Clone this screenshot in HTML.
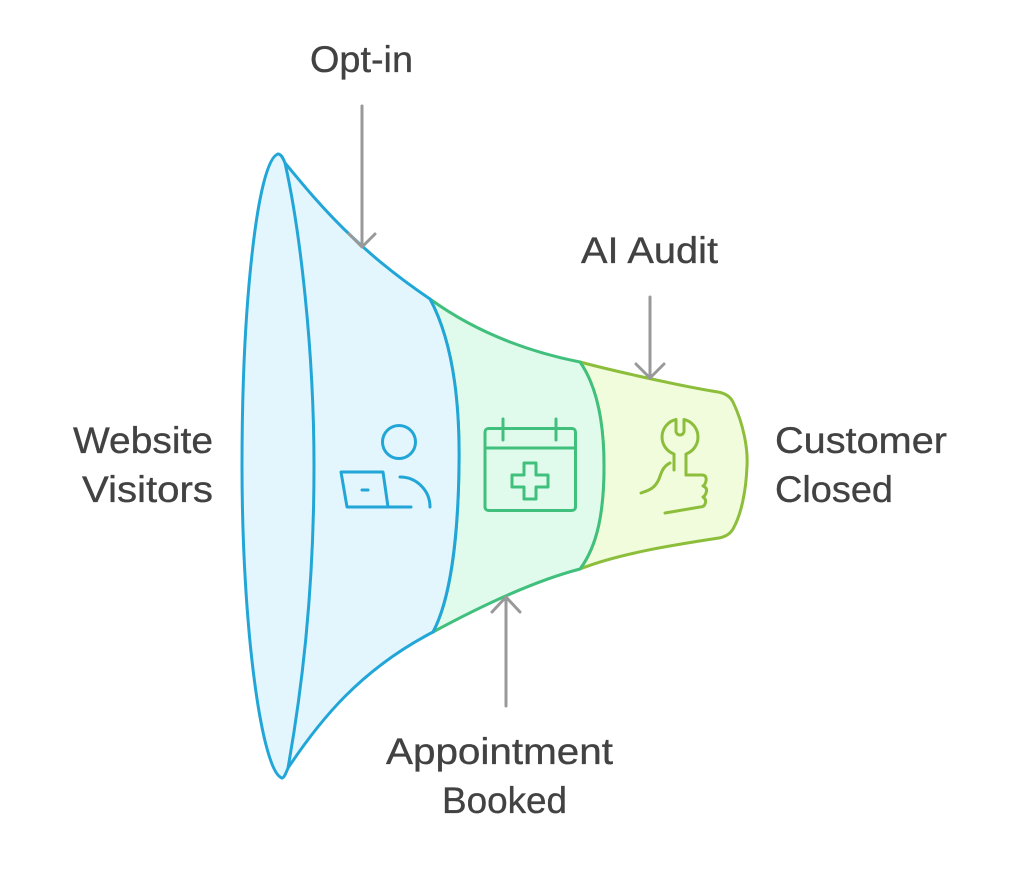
<!DOCTYPE html>
<html>
<head>
<meta charset="utf-8">
<style>
html,body{margin:0;padding:0;background:#fff;}
svg{display:block;}
text{font-family:"Liberation Sans",Arial,sans-serif;font-size:37px;fill:#424242;stroke:#424242;stroke-width:0.35px;}
</style>
</head>
<body>
<svg width="1012" height="876" viewBox="0 0 1012 876" xmlns="http://www.w3.org/2000/svg">
  <!-- Yellow segment -->
  <path d="M 580 362 C 610 370, 680 386, 718 392 Q 729 394, 733 402 C 744 425, 748 450, 747 466 C 746 492, 741 515, 733 529 Q 729 536, 719 538 C 680 544, 620 553, 580 569 C 598 545, 604 510, 604 466 C 604 420, 596 385, 580 362 Z" fill="#f1fcdc" stroke="#8dbe3b" stroke-width="3" stroke-linejoin="round"/>
  <!-- Green segment -->
  <path d="M 430 299 C 470 328, 520 350, 580 362 C 596 385, 604 420, 604 466 C 604 510, 598 545, 580 569 C 530 582, 470 612, 433 632 C 450 600, 458 540, 459 466 C 460 400, 452 340, 430 299 Z" fill="#e0fbec" stroke="#40c07c" stroke-width="3" stroke-linejoin="round"/>
  <!-- Blue body fill -->
  <path d="M 278 154 C 281 154, 283 158, 285 163 C 312 195, 350 245, 430 299 C 452 340, 460 400, 459 466 C 458 540, 450 600, 433 632 C 360 670, 320 720, 288 768 C 286 773, 284 778, 282 778 C 262 772, 242 630, 242 466 C 242 300, 258 160, 278 154 Z" fill="#e3f6fd" stroke="none"/>
  <!-- Blue strokes -->
  <g fill="none" stroke="#22a6d7" stroke-width="3" stroke-linecap="round" stroke-linejoin="round">
    <path d="M 278 154 C 281 154, 283 158, 285 163 C 312 195, 350 245, 430 299"/>
    <path d="M 430 299 C 452 340, 460 400, 459 466 C 458 540, 450 600, 433 632"/>
    <path d="M 433 632 C 360 670, 320 720, 288 768 C 286 773, 284 778, 282 778"/>
    <path d="M 282 778 C 262 772, 242 630, 242 466 C 242 300, 258 160, 278 154"/>
    <path d="M 285 163 C 300 230, 314 350, 314 466 C 314 600, 300 700, 288 768"/>
  </g>

  <!-- Person with laptop icon -->
  <g fill="none" stroke="#22a6d7" stroke-width="3" stroke-linecap="round" stroke-linejoin="round">
    <circle cx="399" cy="442" r="16.5"/>
    <path d="M 341 472 L 383 472 L 388 507 L 347 507 Z"/>
    <path d="M 388 507 L 411 507"/>
    <path d="M 362 490 L 368 490"/>
    <path d="M 400 477 A 30 30 0 0 1 430 507"/>
  </g>

  <!-- Calendar icon -->
  <g fill="none" stroke="#40c07c" stroke-width="3" stroke-linecap="round" stroke-linejoin="round">
    <rect x="485" y="428.5" width="90.5" height="82" rx="3.5"/>
    <path d="M 485 448 L 575 448"/>
    <path d="M 503 419 L 503 440"/>
    <path d="M 556 419 L 556 440"/>
    <path d="M 524 463 L 536 463 L 536 475 L 548 475 L 548 487 L 536 487 L 536 499 L 524 499 L 524 487 L 512 487 L 512 475 L 524 475 Z"/>
  </g>

  <!-- Wrench + thumb icon -->
  <g fill="none" stroke="#8dbe3b" stroke-width="3" stroke-linecap="round" stroke-linejoin="round">
    <path d="M 674 470 L 674 454 A 18 18 0 0 1 676 419.5 L 676 431 A 4 4 0 0 0 684 431 L 684 419.5 A 18 18 0 0 1 686 454 L 686 475"/>
    <path d="M 686 475 L 702 475 Q 707 475 706 481 Q 705 485 703 486 Q 708 488 706 493 Q 705 496 703 497 Q 707 500 705 504 Q 704 507 700 507 L 665 513"/>
    <path d="M 641 493 C 650 490, 655 488, 659 479 C 662 470, 664 466, 670 463"/>
  </g>

  <!-- Arrows -->
  <g fill="none" stroke="#999999" stroke-width="3" stroke-linecap="round" stroke-linejoin="round">
    <path d="M 362 106 L 362 246"/>
    <path d="M 349 234 L 362 247 L 375 234"/>
    <path d="M 650 297 L 650 377"/>
    <path d="M 636 364 L 650 378 L 664 364"/>
    <path d="M 506 706 L 506 598"/>
    <path d="M 492 612 L 506 597 L 520 612"/>
  </g>

  <!-- Labels -->
  <text x="310" y="72" textLength="103" lengthAdjust="spacingAndGlyphs">Opt-in</text>
  <text x="581" y="263" textLength="137" lengthAdjust="spacingAndGlyphs">AI Audit</text>
  <text x="73" y="453" textLength="140" lengthAdjust="spacingAndGlyphs">Website</text>
  <text x="82" y="502" textLength="131" lengthAdjust="spacingAndGlyphs">Visitors</text>
  <text x="775" y="453" textLength="172" lengthAdjust="spacingAndGlyphs">Customer</text>
  <text x="775" y="502" textLength="118" lengthAdjust="spacingAndGlyphs">Closed</text>
  <text x="386" y="764" textLength="227" lengthAdjust="spacingAndGlyphs">Appointment</text>
  <text x="442" y="813" textLength="125" lengthAdjust="spacingAndGlyphs">Booked</text>
</svg>
</body>
</html>
